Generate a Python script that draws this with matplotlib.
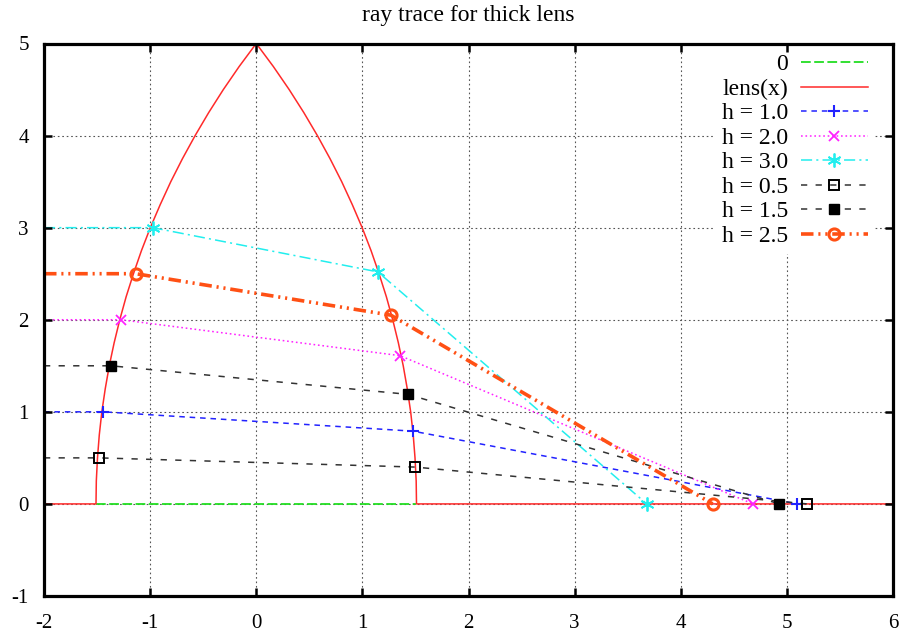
import matplotlib
matplotlib.use('Agg')
import matplotlib.pyplot as plt

plt.rcParams['font.family'] = ['Liberation Serif', 'DejaVu Serif']
plt.rcParams['axes.unicode_minus'] = False
plt.rcParams['lines.scale_dashes'] = False

# lens outline
lens_x = [-2.0, -1.51, -1.507, -1.496, -1.479, -1.455, -1.423, -1.385, -1.339, -1.286, -1.226,
          -1.157, -1.082, -0.998, -0.905, -0.805, -0.695, -0.576, -0.448, -0.310, -0.161, 0.0,
          0.161, 0.310, 0.448, 0.576, 0.695, 0.805, 0.905, 0.998, 1.082, 1.157,
          1.226, 1.286, 1.339, 1.385, 1.423, 1.455, 1.479, 1.496, 1.507, 1.51, 6.0]
lens_y = [0.0, 0.0, 0.25, 0.5, 0.75, 1.0, 1.25, 1.5, 1.75, 2.0, 2.25,
          2.5, 2.75, 3.0, 3.25, 3.5, 3.75, 4.0, 4.25, 4.5, 4.75, 5.0,
          4.75, 4.5, 4.25, 4.0, 3.75, 3.5, 3.25, 3.0, 2.75, 2.5,
          2.25, 2.0, 1.75, 1.5, 1.25, 1.0, 0.75, 0.5, 0.25, 0.0, 0.0]

zero_x = [-1.51, 1.51]
zero_y = [0.0, 0.0]

# rays: start, left surface, right surface, axis crossing
ray_h10_x = [-2.0, -1.441, 1.478, 5.10]
ray_h10_y = [1.0, 1.0, 0.79, 0.0]
ray_h20_x = [-2.0, -1.274, 1.355, 4.68]
ray_h20_y = [2.0, 2.0, 1.61, 0.0]
ray_h30_x = [-2.0, -0.975, 1.145, 3.68]
ray_h30_y = [3.0, 3.0, 2.52, 0.0]
ray_h05_x = [-2.0, -1.482, 1.50, 5.19]
ray_h05_y = [0.5, 0.5, 0.40, 0.0]
ray_h15_x = [-2.0, -1.369, 1.428, 4.93]
ray_h15_y = [1.5, 1.5, 1.19, 0.0]
ray_h25_x = [-2.0, -1.136, 1.268, 4.30]
ray_h25_y = [2.5, 2.5, 2.05, 0.0]

x_ticks = [-2, -1, 0, 1, 2, 3, 4, 5, 6]
y_ticks = [-1, 0, 1, 2, 3, 4, 5]

fig = plt.figure(figsize=(9.02, 6.37), dpi=100)
ax = fig.add_axes([44 / 902, 1 - 596 / 637, 849 / 902, 552.5 / 637])

pts = [1, 2, 3]

ax.plot(zero_x, zero_y, color='#22dd22', lw=1.3, dashes=(7, 2.5), label='0')
ax.plot(lens_x, lens_y, color='#ff2a2a', lw=1.1, label='lens(x)')
ax.plot(ray_h10_x, ray_h10_y, color='#2222ff', lw=1.1, dashes=(4, 3.5),
        marker='+', ms=9, mew=1.5, markevery=pts, label='h = 1.0')
ax.plot(ray_h20_x, ray_h20_y, color='#ff22ff', lw=1.1, dashes=(1.2, 2),
        marker='x', ms=7, mew=1.3, markevery=pts, label='h = 2.0')
ax.plot(ray_h30_x, ray_h30_y, color='#22eeee', lw=1.1, dashes=(8, 3, 1.5, 3),
        marker=(6, 2, 0), ms=10, mew=1.3, markevery=pts, label='h = 3.0')
ax.plot(ray_h05_x, ray_h05_y, color='#333333', lw=1.1, dashes=(4.5, 6),
        marker='s', ms=7, mfc='none', mec='black', mew=1.4, markevery=pts, label='h = 0.5')
ax.plot(ray_h15_x, ray_h15_y, color='#333333', lw=1.1, dashes=(4.5, 6),
        marker='s', ms=7, mfc='black', mec='black', markevery=pts, label='h = 1.5')
ax.plot(ray_h25_x, ray_h25_y, color='#ff5014', lw=2.6, dashes=(9, 3.5, 1.5, 3.5, 1.5, 3.5),
        marker='o', ms=8, mfc='none', mec='#ff5014', mew=2.2, markevery=pts, label='h = 2.5')

ax.set_xlim(-2, 6)
ax.set_ylim(-1, 5)
ax.set_xticks(x_ticks)
ax.set_yticks(y_ticks)

# grid
for xv in x_ticks[1:-1]:
    ax.axvline(xv, color='#555555', lw=0.8, ls=(0, (1.2, 2)), zorder=1)
for yv in y_ticks[1:-1]:
    ax.axhline(yv, color='#555555', lw=0.8, ls=(0, (1.2, 2)), zorder=1)
ax.set_axisbelow(False)

ax.tick_params(direction='in', length=6, width=1.8, top=True, right=True, labelsize=15)
ax.tick_params(axis='x', pad=13)
ax.tick_params(axis='y', pad=11)
for s in ax.spines.values():
    s.set_linewidth(2.3)

ax.set_title('ray trace for thick lens', fontsize=17, pad=16)

leg = ax.legend(loc='upper right', bbox_to_anchor=(0.979, 0.994), markerfirst=False,
                fontsize=17, handlelength=2.85, handletextpad=0.55, labelspacing=0.125,
                borderpad=0.3, borderaxespad=0, numpoints=1,
                frameon=True, fancybox=False, facecolor='white', edgecolor='none', framealpha=1)
leg.set_zorder(2.2)

fig.savefig('out.png', dpi=100)
